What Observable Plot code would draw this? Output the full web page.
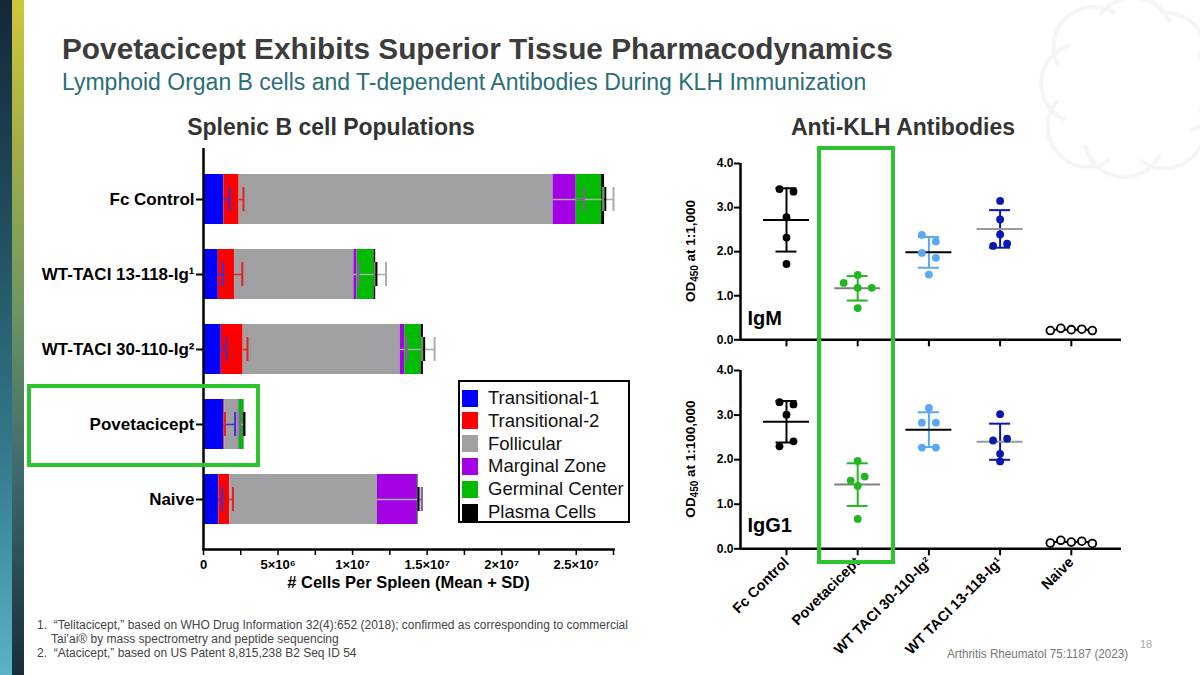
<!DOCTYPE html>
<html><head><meta charset="utf-8">
<script src="https://cdn.jsdelivr.net/npm/d3@7"></script>
<script src="https://cdn.jsdelivr.net/npm/@observablehq/plot@0.6"></script>
<style>
body{margin:0;background:#fff;}
#page{position:relative;width:1200px;height:675px;background:#fff;overflow:hidden;font-family:"Liberation Sans",Arial,sans-serif;}
.abs{position:absolute;}
#stripe1{left:0;top:0;width:12px;height:675px;background:linear-gradient(to bottom,#14283a 0%,#1f4a5a 30%,#347e90 70%,#5cb2c6 100%);}
#stripe2{left:12px;top:0;width:12px;height:675px;background:linear-gradient(to bottom,#cbc83a 0%,#a2ad48 22%,#6e9760 45%,#3c6a6e 70%,#162e3a 100%);}
#title{left:62px;top:32px;font-size:29.8px;font-weight:bold;color:#3c3c3c;white-space:nowrap;}
#subtitle{left:62px;top:69px;font-size:23px;color:#2a6e78;white-space:nowrap;}
.sect{font-size:23px;font-weight:bold;color:#333;white-space:nowrap;transform:translateX(-50%);top:114px;}
#legend{left:458px;top:380px;width:172px;height:143px;border:2px solid #000;box-sizing:border-box;background:#fff;}
.lg{position:absolute;left:2px;height:22px;display:flex;align-items:center;font-size:18.5px;color:#111;white-space:nowrap;}
.lg span.sw{display:inline-block;width:16px;height:17px;margin-right:10px;}
.hl{border:4px solid #2dc42d;box-sizing:border-box;}
.foot{left:37px;font-size:12.5px;color:#444;white-space:nowrap;transform:scaleX(0.96);transform-origin:left top;}
#cite{left:947px;top:646px;font-size:13px;color:#777;white-space:nowrap;transform:scaleX(0.9);transform-origin:left top;}
#pnum{left:1140px;top:638px;font-size:11px;color:#aaa;}
.ylab{font-size:13.5px;font-weight:bold;color:#000;white-space:nowrap;transform:translate(-50%,-50%) rotate(-90deg);}
.ylab sub{font-size:10px;vertical-align:-3px;}
</style></head><body><div id="page">
<div id="stripe1" class="abs"></div><div id="stripe2" class="abs"></div>
<svg class="abs" style="left:1030px;top:-10px" width="200" height="200">
  <g fill="none" stroke="#f5f5f5" stroke-width="4" transform="translate(100,95)">
    <path d="M-30,-70 A40,40 0 0 1 40,-62"/>
    <path d="M30,-72 A40,40 0 0 1 72,-15"/>
    <path d="M68,-30 A40,40 0 0 1 60,45"/>
    <path d="M70,25 A40,40 0 0 1 10,75"/>
    <path d="M30,70 A40,40 0 0 1 -45,60"/>
    <path d="M-20,75 A40,40 0 0 1 -72,15"/>
    <path d="M-65,35 A40,40 0 0 1 -60,-40"/>
    <path d="M-72,-20 A40,40 0 0 1 -15,-72"/>
  </g>
</svg>
<div id="title" class="abs">Povetacicept Exhibits Superior Tissue Pharmacodynamics</div>
<div id="subtitle" class="abs">Lymphoid Organ B cells and T-dependent Antibodies During KLH Immunization</div>
<div class="abs sect" style="left:331px">Splenic B cell Populations</div>
<div class="abs sect" style="left:903px">Anti-KLH Antibodies</div>
<div id="bar" class="abs" style="left:0;top:140px"></div>
<div id="igm" class="abs" style="left:640px;top:140px"></div>
<div id="igg" class="abs" style="left:640px;top:345px"></div>
<div class="abs ylab" style="left:691px;top:251px">OD<sub>450</sub> at 1:1,000</div>
<div class="abs ylab" style="left:691px;top:459px">OD<sub>450</sub> at 1:100,000</div>
<div id="legend" class="abs"></div>
<div class="abs hl" style="left:27px;top:384px;width:233px;height:83px"></div>
<div class="abs hl" style="left:817px;top:146px;width:78px;height:418px"></div>
<div class="abs foot" style="top:618px">1.&nbsp;&nbsp;“Telitacicept,” based on WHO Drug Information 32(4):652 (2018); confirmed as corresponding to commercial</div>
<div class="abs foot" style="top:632px;left:51px">Tai’ai® by mass spectrometry and peptide sequencing</div>
<div class="abs foot" style="top:646px">2.&nbsp;&nbsp;“Atacicept,” based on US Patent 8,815,238 B2 Seq ID 54</div>
<div id="cite" class="abs">Arthritis Rheumatol 75:1187 (2023)</div>
<div id="pnum" class="abs">18</div>
</div>
<script>
// ---------- Splenic B cell populations (cells per spleen, mean + SD) ----------
const barGroups = ["Fc Control", "WT-TACI 13-118-Ig¹", "WT-TACI 30-110-Ig²", "Povetacicept", "Naive"];
const populations = ["Transitional-1", "Transitional-2", "Follicular", "Marginal Zone", "Germinal Center", "Plasma Cells"];
const popColors = ["#0000ff", "#ff0000", "#a0a0a2", "#a400e4", "#00bb00", "#000000"];
const sdColors = ["#3434d8", "#e82020", "#a4b0a8", "#8c5aa8", "#5a9a5a", "#000000"];
const transitional1  = [1.37e6, 0.99e6, 1.19e6, 1.37e6, 1.03e6];
const transitional2  = [1.02e6, 1.10e6, 1.47e6, 0.05e6, 0.73e6];
const follicular     = [21.06e6, 8.00e6, 10.54e6, 0.90e6, 9.91e6];
const marginalZone   = [1.55e6, 0.21e6, 0.30e6, 0.05e6, 2.68e6];
const germinalCenter = [1.70e6, 1.14e6, 1.10e6, 0.31e6, 0.05e6];
const plasmaCells    = [0.20e6, 0.11e6, 0.15e6, 0.03e6, 0.01e6];
const sdT1  = [0.39e6, 0.31e6, 0.34e6, 0.75e6, 0.23e6];
const sdT2  = [0.29e6, 0.51e6, 0.29e6, 0.02e6, 0.22e6];
const sdFol = [4.05e6, 2.15e6, 2.30e6, 0.45e6, 2.95e6];
const sdMZ  = [0.50e6, 0.10e6, 0.15e6, 0.08e6, 0.30e6];
const sdGC  = [0.10e6, 0.05e6, 0.05e6, 0.05e6, 0.02e6];
const sdPC  = [0.05e6, 0.05e6, 0.05e6, 0.02e6, 0.01e6];
const xTicks = [0, 5e6, 1e7, 1.5e7, 2e7, 2.5e7];
const xTickLabels = ["0", "5×10⁶", "1×10⁷", "1.5×10⁷", "2×10⁷", "2.5×10⁷"];
const xMinorTicks = [2.5e6, 7.5e6, 12.5e6, 17.5e6, 22.5e6, 27.5e6];
const xMax = 2.75e7;
const xAxisLabel = "# Cells Per Spleen (Mean + SD)";

// ---------- Anti-KLH antibodies (OD450), 5 mice per group ----------
const abGroups = ["Fc Control", "Povetacicept", "WT TACI 30-110-Ig²", "WT TACI 13-118-Ig¹", "Naive"];
const igmFc    = [3.42, 3.36, 2.78, 2.32, 1.72];
const igmPove  = [1.47, 1.29, 1.18, 1.18, 0.72];
const igm30    = [2.38, 2.23, 1.97, 1.86, 1.48];
const igm13    = [3.15, 2.73, 2.39, 2.13, 2.18];
const igmNaive = [0.21, 0.26, 0.23, 0.24, 0.21];
const iggFc    = [3.29, 3.24, 3.01, 2.30, 2.41];
const iggPove  = [1.97, 1.53, 1.62, 1.41, 0.67];
const igg30    = [3.16, 2.83, 2.83, 2.27, 2.27];
const igg13    = [3.02, 2.43, 2.47, 2.13, 1.96];
const iggNaive = [0.13, 0.19, 0.15, 0.17, 0.12];
const yTicks = [0, 1, 2, 3, 4];
const dotColors  = ["#000000", "#1fb81f", "#5aa8f0", "#0a18b0", "#ffffff"];
const meanColors = ["#000000", "#808080", "#000000", "#9a9a9a", "#000000"];
const errColors  = ["#000000", "#1fb81f", "#5aa8f0", "#0a18b0", "#000000"];

const FONT = "Liberation Sans, Arial, sans-serif";

// ----- legend -----
const leg = document.getElementById("legend");
populations.forEach((p, i) => {
  const d = document.createElement("div");
  d.className = "lg";
  d.style.top = (5 + i * 22.8) + "px";
  d.innerHTML = `<span class="sw" style="background:${popColors[i]}"></span>${p}`;
  leg.appendChild(d);
});

// ----- bar chart -----
const popValues = [transitional1, transitional2, follicular, marginalZone, germinalCenter, plasmaCells];
const popSDs = [sdT1, sdT2, sdFol, sdMZ, sdGC, sdPC];
const rows = [];
barGroups.forEach((g, gi) => {
  let cum = 0;
  populations.forEach((p, pi) => {
    const v = popValues[pi][gi];
    rows.push({group: g, pop: p, x1: cum, x2: cum + v, sd: popSDs[pi][gi], fill: popColors[pi], sdc: sdColors[pi]});
    cum += v;
  });
});

const bar = Plot.plot({
  width: 640, height: 470,
  marginLeft: 203, marginRight: 27, marginTop: 8, marginBottom: 61,
  style: {fontFamily: FONT, color: "#000", background: "transparent"},
  color: {type: "identity"},
  x: {domain: [0, xMax], axis: null},
  y: {domain: barGroups, paddingInner: 1/3, paddingOuter: 0.34, axis: null},
  marks: [
    Plot.barX(rows, {y: "group", x1: "x1", x2: "x2", fill: "fill"}),
    Plot.ruleY(rows, {y: "group", x1: "x2", x2: d => d.x2 + d.sd, stroke: "sdc", strokeWidth: 1.5}),
    Plot.tickX(rows, {y: "group", x: d => d.x2 + d.sd, stroke: "sdc", strokeWidth: 2, insetTop: 13, insetBottom: 13}),
    Plot.ruleX([0], {strokeWidth: 2.5}),
    Plot.frame({anchor: "bottom", strokeWidth: 2.5}),
    Plot.axisY({tickSize: 7, tickPadding: 2, fontSize: 17, fontWeight: "bold", label: null, strokeWidth: 2}),
    Plot.axisX({ticks: xMinorTicks, tickFormat: () => "", tickSize: 6, strokeWidth: 1.5, label: null}),
    Plot.axisX({ticks: xTicks, tickFormat: d => xTickLabels[xTicks.indexOf(d)], tickSize: 6, tickPadding: 4,
      fontSize: 13, fontWeight: "bold", strokeWidth: 1.5, label: null}),
    Plot.text([xAxisLabel], {frameAnchor: "bottom", dy: 38, fontSize: 16.5, fontWeight: "bold"})
  ]
});
document.getElementById("bar").appendChild(bar);

// ----- dot plots -----
const xDomain = [-0.646, 4.705];
const ROW_PX = 7;
function swarmOffsets(vals, pxPerUnit) {
  const idx = d3.range(vals.length).sort((a, b) => vals[b] - vals[a]);
  const groups = [];
  for (const i of idx) {
    const r = groups[groups.length - 1];
    if (r && (vals[r[0]] - vals[i]) * pxPerUnit < ROW_PX) r.push(i); else groups.push([i]);
  }
  const off = new Array(vals.length).fill(0);
  for (const r of groups) {
    r.sort((a, b) => a - b);
    const n = r.length, sp = n <= 3 ? 14 : 42 / (n - 1);
    r.forEach((i, k) => off[i] = (k - (n - 1) / 2) * sp);
  }
  return off;
}

function panel(series, {height, marginTop, marginBottom, tag, tagDy, showLabels}) {
  const width = 500, marginLeft = 100, marginRight = 19;
  const pxPerUnit = (height - marginTop - marginBottom) / 4;
  const stepPx = (width - marginLeft - marginRight) / (xDomain[1] - xDomain[0]);
  const pts = [], stats = [];
  series.forEach((vals, g) => {
    const off = swarmOffsets(vals, pxPerUnit);
    vals.forEach((v, k) => pts.push({g, x: g + off[k] / stepPx, v}));
    stats.push({g, mean: d3.mean(vals), sd: d3.deviation(vals)});
  });
  const capHalf = 10.5 / stepPx, meanHalf = 23 / stepPx;
  return Plot.plot({
    width, height, marginLeft, marginRight, marginTop, marginBottom,
    style: {fontFamily: FONT, color: "#000", background: "transparent", overflow: "visible"},
    color: {type: "identity"},
    x: {domain: xDomain, axis: null},
    y: {domain: [0, 4], axis: null},
    marks: [
      Plot.ruleX(stats, {filter: d => d.g < 4, x: "g", y1: d => d.mean - d.sd, y2: d => d.mean + d.sd, stroke: d => errColors[d.g], strokeWidth: 2}),
      Plot.ruleY(stats, {filter: d => d.g < 4, y: d => d.mean + d.sd, x1: d => d.g - capHalf, x2: d => d.g + capHalf, stroke: d => errColors[d.g], strokeWidth: 2}),
      Plot.ruleY(stats, {filter: d => d.g < 4, y: d => d.mean - d.sd, x1: d => d.g - capHalf, x2: d => d.g + capHalf, stroke: d => errColors[d.g], strokeWidth: 2}),
      Plot.ruleY(stats, {y: "mean", x1: d => d.g - meanHalf, x2: d => d.g + meanHalf, stroke: d => meanColors[d.g], strokeWidth: 2}),
      Plot.dot(pts, {x: "x", y: "v", r: 3.9, fill: d => dotColors[d.g], stroke: d => d.g === 4 ? "#000" : "none", strokeWidth: 1.8}),
      Plot.ruleX([xDomain[0]], {strokeWidth: 2.5}),
      Plot.ruleY([0], {strokeWidth: 2.5}),
      Plot.axisY({ticks: yTicks, tickFormat: d3.format(".1f"), tickSize: 6, tickPadding: 1, fontSize: 12, fontWeight: "bold", strokeWidth: 2, label: null}),
      Plot.axisX({ticks: yTicks.map((d, i) => i), tickFormat: showLabels ? (i => abGroups[i]) : (() => ""),
        tickRotate: showLabels ? -45 : 0, tickSize: 7, tickPadding: 4, fontSize: 14.5, fontWeight: "bold", strokeWidth: 2, label: null}),
      Plot.text([tag], {frameAnchor: "bottom-left", textAnchor: "start", dx: 7, dy: tagDy, fontSize: 20, fontWeight: "bold"})
    ]
  });
}

document.getElementById("igm").appendChild(panel([igmFc, igmPove, igm30, igm13, igmNaive],
  {height: 210, marginTop: 23, marginBottom: 10.7, tag: "IgM", tagDy: -15, showLabels: false}));
document.getElementById("igg").appendChild(panel([iggFc, iggPove, igg30, igg13, iggNaive],
  {height: 330, marginTop: 25, marginBottom: 126.7, tag: "IgG1", tagDy: -17, showLabels: true}));
</script>
</body></html>
